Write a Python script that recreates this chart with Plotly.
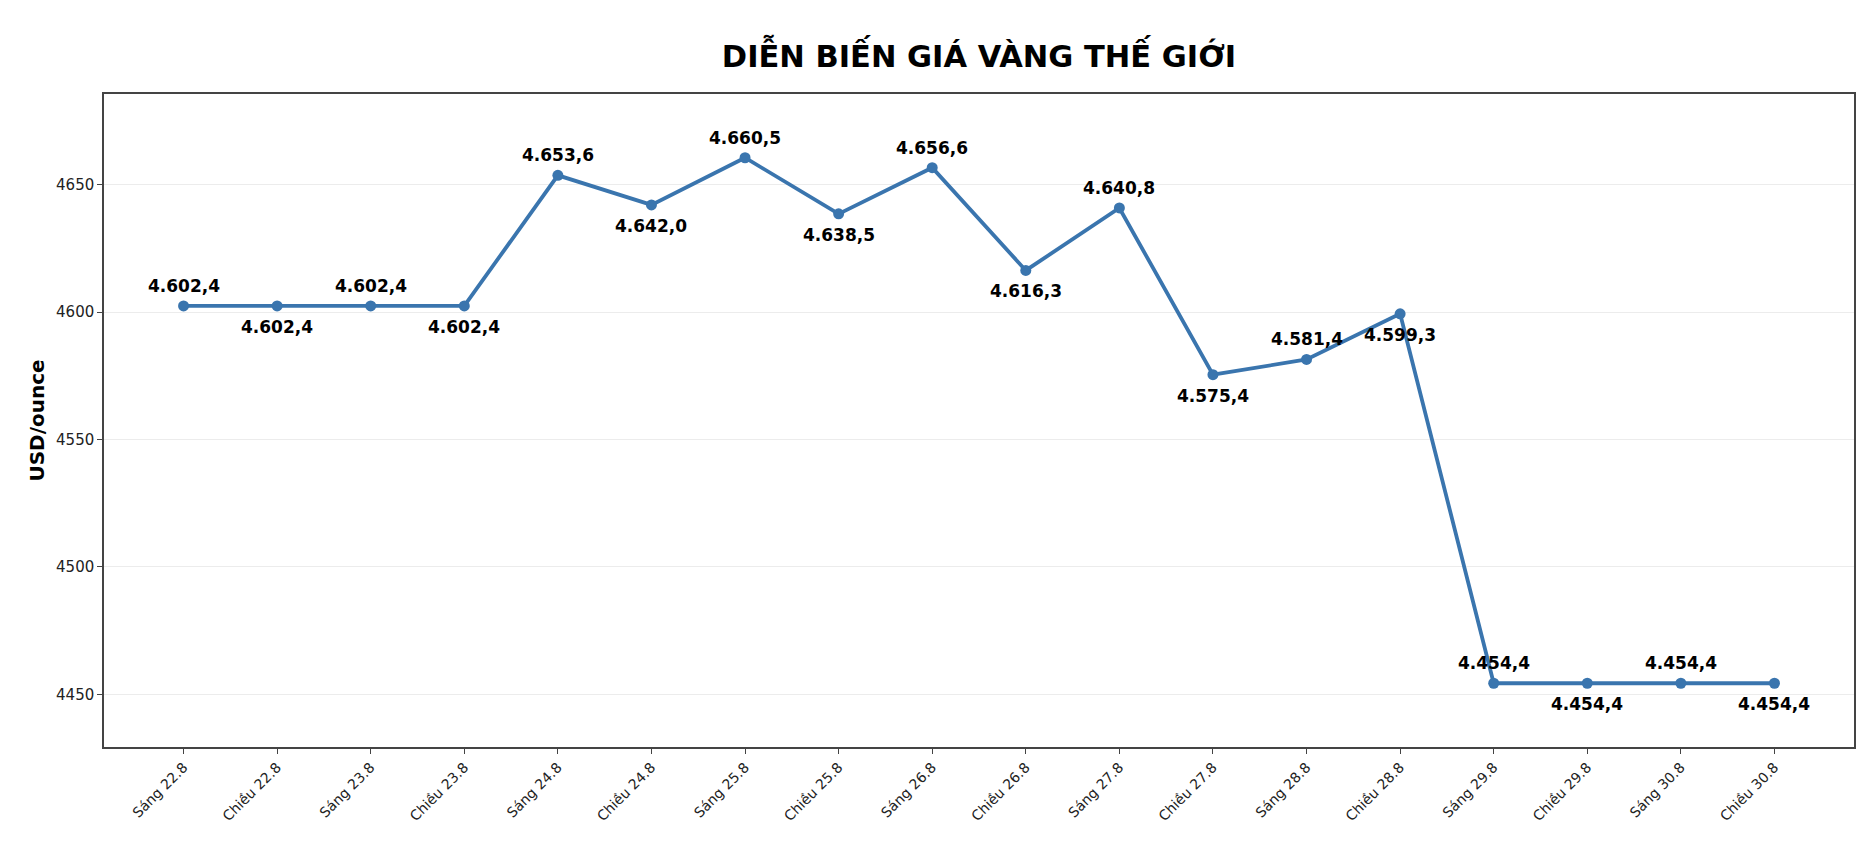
import plotly.graph_objects as go

sessions = ["Sáng 22.8", "Chiều 22.8", "Sáng 23.8", "Chiều 23.8", "Sáng 24.8", "Chiều 24.8",
            "Sáng 25.8", "Chiều 25.8", "Sáng 26.8", "Chiều 26.8", "Sáng 27.8", "Chiều 27.8",
            "Sáng 28.8", "Chiều 28.8", "Sáng 29.8", "Chiều 29.8", "Sáng 30.8", "Chiều 30.8"]
prices = [4602.4, 4602.4, 4602.4, 4602.4, 4653.6, 4642.0, 4660.5, 4638.5, 4656.6,
          4616.3, 4640.8, 4575.4, 4581.4, 4599.3, 4454.4, 4454.4, 4454.4, 4454.4]
y_ticks = [4450, 4500, 4550, 4600, 4650]


def vn_fmt(v):
    # 4602.4 -> "4.602,4"
    s = f"{v:,.1f}"
    return s.replace(",", "X").replace(".", ",").replace("X", ".")


line_color = "#3a75ae"
fig = go.Figure()
fig.add_trace(go.Scatter(
    x=list(range(len(sessions))), y=prices, mode="lines+markers",
    line=dict(color=line_color, width=3.8),
    marker=dict(color=line_color, size=11),
    hoverinfo="skip", showlegend=False,
))

# labels alternate above / below the points
for i, v in enumerate(prices):
    above = i % 2 == 0
    fig.add_annotation(
        x=i, y=v, text=vn_fmt(v), showarrow=False,
        yshift=20 if above else -21,
        font=dict(family="DejaVu Sans", size=17, color="black", weight="bold"),
    )

axis_line = dict(showline=True, linecolor="#444444", linewidth=1.5, mirror=True,
                 ticks="outside", ticklen=5, tickcolor="#444444", zeroline=False)

fig.update_xaxes(
    range=[-0.85, len(sessions) - 1 + 0.85],
    tickvals=list(range(len(sessions))), ticktext=sessions, tickangle=-45,
    showgrid=False, tickfont=dict(size=14, color="#222222"), **axis_line,
)
fig.update_yaxes(
    range=[min(prices) - 25, max(prices) + 25],
    tickvals=y_ticks, showgrid=True, gridcolor="#ececec", gridwidth=1,
    tickfont=dict(size=15, color="#222222"),
    title=dict(text="USD/ounce", font=dict(size=20, color="black", weight="bold"), standoff=6),
    **axis_line,
)

fig.update_layout(
    width=1876, height=860,
    title=dict(text="DIỄN BIẾN GIÁ VÀNG THẾ GIỚI", x=0.5, xref="paper", xanchor="center",
               y=0.944, yanchor="middle",
               font=dict(size=30.5, color="black", weight="bold")),
    font=dict(family="DejaVu Sans"),
    plot_bgcolor="white", paper_bgcolor="white",
    margin=dict(l=96, r=30, t=86, b=121),
)

fig.write_html("out.html")
